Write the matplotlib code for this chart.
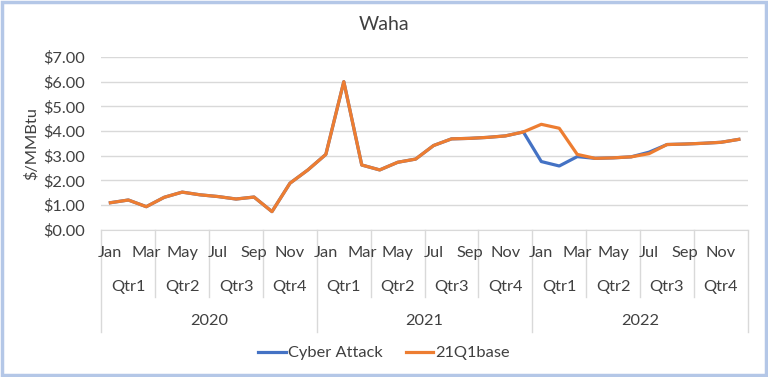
import numpy as np
import matplotlib
matplotlib.use("Agg")
import matplotlib.pyplot as plt
from matplotlib.transforms import blended_transform_factory
from matplotlib.patches import Rectangle

plt.rcParams['font.family'] = ['Lato', 'DejaVu Sans']

years = ['2020', '2021', '2022']
quarters = ['Qtr1', 'Qtr2', 'Qtr3', 'Qtr4']
month_labels = ['Jan', 'Mar', 'May', 'Jul', 'Sep', 'Nov']

base_21q1 = [1.09, 1.20, 0.93, 1.31, 1.52, 1.41, 1.34, 1.24, 1.32, 0.73, 1.88, 2.42,
             3.05, 6.00, 2.62, 2.42, 2.73, 2.86, 3.41, 3.68, 3.70, 3.74, 3.80, 3.96,
             4.27, 4.11, 3.05, 2.89, 2.91, 2.95, 3.08, 3.45, 3.47, 3.50, 3.54, 3.66]
cyber_attack = [1.09, 1.20, 0.93, 1.31, 1.52, 1.41, 1.34, 1.24, 1.32, 0.73, 1.88, 2.42,
                3.05, 6.00, 2.62, 2.42, 2.73, 2.86, 3.41, 3.68, 3.70, 3.74, 3.80, 3.96,
                2.76, 2.58, 2.96, 2.89, 2.91, 2.95, 3.14, 3.45, 3.47, 3.50, 3.54, 3.66]

W, H = 768, 377
fs = 11.8
txt = '#404040'
fig = plt.figure(figsize=(W / 100, H / 100), dpi=100)
ax = fig.add_axes([101.4 / W, 1 - 229.6 / H, (747.8 - 101.4) / W, (229.6 - 57.0) / H])

x = np.arange(len(base_21q1))
ax.plot(x, cyber_attack, color='#4472C4', lw=2.3, label='Cyber Attack', solid_joinstyle='round')
ax.plot(x, base_21q1, color='#ED7D31', lw=2.3, label='21Q1base', solid_joinstyle='round')

ax.set_xlim(-0.5, len(x) - 0.5)
ax.set_ylim(0, 7)
ax.set_yticks(np.arange(0, 8, 1))
ax.set_yticklabels(['${:.2f}'.format(v) for v in np.arange(0, 8, 1)], fontsize=fs, color=txt)
ax.tick_params(axis='y', length=0, pad=12)
ax.set_xticks([])
ax.grid(axis='y', color='#d9d9d9', lw=1)
ax.set_axisbelow(True)
for s in ['top', 'right', 'left']:
    ax.spines[s].set_visible(False)
ax.spines['bottom'].set_color('#d9d9d9')

ax.set_ylabel('$/MMBtu', fontsize=fs, color=txt, labelpad=3)
fig.text(384 / W, 1 - 25 / H, 'Waha', ha='center', va='center', fontsize=14, color=txt)

# multi-level category axis
tr = blended_transform_factory(ax.transData, fig.transFigure)
for i in range(len(x)):
    if i % 2 == 0:
        ax.text(i, 1 - 253 / H, month_labels[(i % 12) // 2], transform=tr,
                ha='center', va='center', fontsize=fs, color=txt)
for k in range(len(x) // 3):
    ax.text(3 * k + 1, 1 - 287 / H, quarters[k % 4], transform=tr,
            ha='center', va='center', fontsize=fs, color=txt)
for k, yr in enumerate(years):
    ax.text(12 * k + 5.5, 1 - 321 / H, yr, transform=tr,
            ha='center', va='center', fontsize=fs, color=txt)
for b in np.arange(-0.5, len(x), 3):
    bottom = 332 if (b + 0.5) % 12 == 0 else 297
    ax.plot([b, b], [1 - 229.6 / H, 1 - bottom / H], transform=tr, color='#d9d9d9',
            lw=1, clip_on=False)

fig.legend(loc='center', bbox_to_anchor=(384 / W, 1 - 353 / H), ncol=2, frameon=False,
           fontsize=fs, handlelength=1.7, handletextpad=0.1, columnspacing=1.4,
           labelcolor=txt)

fig.patches.append(Rectangle((0.002, 0.004), 0.996, 0.992, transform=fig.transFigure,
                             fill=False, edgecolor='#b4c7e7', lw=2.5))

fig.savefig('out.png', dpi=100)
